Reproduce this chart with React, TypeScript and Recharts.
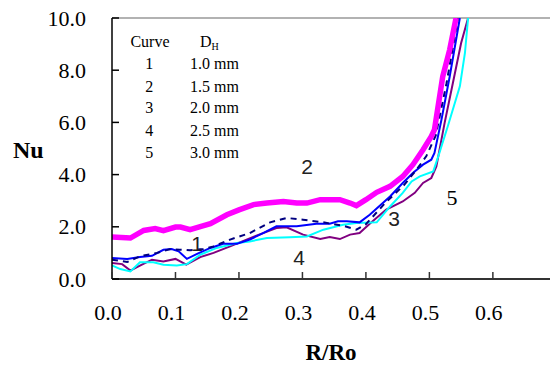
import { LineChart, Line, XAxis, YAxis, ReferenceLine } from "recharts"

// curve 1 - D_H 1.0 mm (dashed navy)
const curve1R = [0, 0.024, 0.044, 0.071, 0.092, 0.107, 0.123, 0.144, 0.16, 0.186, 0.217, 0.249, 0.275, 0.301, 0.333, 0.364, 0.385, 0.4, 0.43, 0.46, 0.48, 0.495, 0.51, 0.527, 0.545]
const curve1Nu = [0.74, 0.65, 0.87, 1.0, 1.15, 1.12, 1.1, 1.15, 1.25, 1.51, 1.76, 2.17, 2.34, 2.27, 2.17, 2.04, 1.89, 2.1, 2.9, 3.6, 4.2, 4.7, 5.5, 7.5, 10]

// curve 2 - D_H 1.5 mm (thick magenta)
const curve2R = [0, 0.029, 0.05, 0.068, 0.081, 0.1, 0.108, 0.123, 0.139, 0.155, 0.181, 0.2, 0.223, 0.244, 0.27, 0.291, 0.307, 0.328, 0.359, 0.375, 0.385, 0.4, 0.417, 0.438, 0.458, 0.474, 0.49, 0.503, 0.508, 0.521, 0.532, 0.542]
const curve2Nu = [1.61, 1.57, 1.86, 1.93, 1.85, 1.99, 1.99, 1.89, 2.01, 2.12, 2.46, 2.65, 2.85, 2.91, 2.97, 2.91, 2.91, 3.04, 3.04, 2.91, 2.81, 3.04, 3.32, 3.55, 3.93, 4.38, 4.95, 5.46, 5.72, 7.76, 8.79, 10]

// curve 3 - D_H 2.0 mm (blue)
const curve3R = [0, 0.024, 0.044, 0.063, 0.081, 0.094, 0.105, 0.118, 0.134, 0.155, 0.175, 0.197, 0.217, 0.238, 0.259, 0.291, 0.322, 0.343, 0.356, 0.37, 0.39, 0.406, 0.438, 0.458, 0.474, 0.49, 0.503, 0.508, 0.519, 0.532, 0.548]
const curve3Nu = [0.8, 0.77, 0.84, 0.89, 1.12, 1.15, 1.06, 0.77, 0.96, 1.19, 1.35, 1.35, 1.51, 1.76, 2.02, 2.02, 2.12, 2.12, 2.21, 2.21, 2.17, 2.46, 3.16, 3.68, 4.06, 4.38, 4.57, 4.83, 6.1, 7.76, 10]

// curve 4 - D_H 2.5 mm (cyan)
const curve4R = [0, 0.013, 0.029, 0.044, 0.065, 0.081, 0.102, 0.118, 0.139, 0.165, 0.197, 0.217, 0.244, 0.28, 0.307, 0.333, 0.364, 0.385, 0.417, 0.438, 0.458, 0.472, 0.485, 0.506, 0.514, 0.529, 0.548, 0.556, 0.561]
const curve4Nu = [0.52, 0.38, 0.29, 0.64, 0.64, 0.55, 0.52, 0.57, 0.93, 1.19, 1.38, 1.44, 1.57, 1.6, 1.63, 1.89, 2.08, 2.15, 2.17, 2.78, 3.3, 3.74, 3.93, 4.12, 4.7, 5.85, 7.38, 8.66, 10]

// curve 5 - D_H 3.0 mm (purple)
const curve5R = [0, 0.016, 0.029, 0.044, 0.063, 0.081, 0.1, 0.117, 0.139, 0.16, 0.186, 0.212, 0.238, 0.259, 0.275, 0.301, 0.328, 0.343, 0.359, 0.375, 0.39, 0.406, 0.432, 0.458, 0.477, 0.49, 0.503, 0.511, 0.524, 0.537, 0.55, 0.561]
const curve5Nu = [0.61, 0.57, 0.32, 0.51, 0.74, 0.67, 0.77, 0.55, 0.84, 1.0, 1.25, 1.51, 1.76, 1.95, 1.98, 1.7, 1.53, 1.61, 1.53, 1.7, 1.76, 2.12, 2.66, 2.97, 3.3, 3.68, 3.87, 4.31, 5.98, 7.51, 9.04, 10]

const xTicks = [0, 0.1, 0.2, 0.3, 0.4, 0.5, 0.6]
const yTicks = [0, 2, 4, 6, 8, 10]

const legendCurves = ["1", "2", "3", "4", "5"]
const legendSizes = ["1.0 mm", "1.5 mm", "2.0 mm", "2.5 mm", "3.0 mm"]

const zip = (r: number[], nu: number[]) => r.map((x, i) => ({ r: x, nu: nu[i] }))

const PLOT_LEFT = 112
const PLOT_BOTTOM = 279
const serif = "'Liberation Serif', 'Times New Roman', serif"
const sans = "'Liberation Sans', Arial, sans-serif"

function YTick({ y, payload }: any) {
  return (
    <g>
      <line x1={PLOT_LEFT} x2={PLOT_LEFT + 7} y1={y} y2={y} stroke="#000" strokeWidth={1.5} />
      <text x={86} y={y} textAnchor="end" dominantBaseline="central" fontFamily={serif} fontSize={22} fill="#000">
        {Number(payload.value).toFixed(1)}
      </text>
    </g>
  )
}

function XTick({ x, payload }: any) {
  return (
    <g>
      <line x1={x} x2={x} y1={PLOT_BOTTOM} y2={PLOT_BOTTOM - 7} stroke="#333" strokeWidth={1.5} />
      <text x={x - 4} y={312} textAnchor="middle" dominantBaseline="central" fontFamily={serif} fontSize={22} fill="#000">
        {Number(payload.value).toFixed(1)}
      </text>
    </g>
  )
}

export default function App() {
  const rowY = [63.3, 86, 107.7, 130, 152]
  return (
    <div style={{ position: "absolute", left: 0, top: 0, width: 550, height: 365, background: "#fff" }}>
      <LineChart width={550} height={365} margin={{ top: 18, right: 0, left: 0, bottom: 0 }}>
        <XAxis
          type="number"
          dataKey="r"
          domain={[0, 0.69]}
          ticks={xTicks}
          height={86}
          tick={<XTick />}
          tickLine={false}
          axisLine={{ stroke: "#333", strokeWidth: 2 }}
          allowDataOverflow
        />
        <YAxis
          type="number"
          dataKey="nu"
          domain={[0, 10]}
          ticks={yTicks}
          width={112}
          tick={<YTick />}
          tickLine={false}
          axisLine={{ stroke: "#000", strokeWidth: 1.5 }}
          allowDataOverflow
        />
        <ReferenceLine y={10} stroke="#999" strokeWidth={1.5} />
        <Line data={zip(curve5R, curve5Nu)} dataKey="nu" type="linear" stroke="#800080" strokeWidth={2} dot={false} isAnimationActive={false} />
        <Line data={zip(curve4R, curve4Nu)} dataKey="nu" type="linear" stroke="#00FFFF" strokeWidth={2} dot={false} isAnimationActive={false} />
        <Line data={zip(curve3R, curve3Nu)} dataKey="nu" type="linear" stroke="#0000FF" strokeWidth={2} dot={false} isAnimationActive={false} />
        <Line data={zip(curve1R, curve1Nu)} dataKey="nu" type="linear" stroke="#000080" strokeWidth={2} strokeDasharray="6 5" dot={false} isAnimationActive={false} />
        <Line data={zip(curve2R, curve2Nu)} dataKey="nu" type="linear" stroke="#FF00FF" strokeWidth={5.5} dot={false} isAnimationActive={false} />
      </LineChart>
      <svg width={550} height={365} style={{ position: "absolute", left: 0, top: 0, pointerEvents: "none" }}>
        <text x={13} y={150} dominantBaseline="central" fontFamily={serif} fontWeight="bold" fontSize={24} fill="#000">Nu</text>
        <text x={331} y={360} textAnchor="middle" fontFamily={serif} fontWeight="bold" fontSize={23} fill="#000">R/Ro</text>
        <g fontFamily={serif} fontSize={16} fill="#000">
          <text x={150} y={41.7} textAnchor="middle" dominantBaseline="central">Curve</text>
          <text x={200} y={41.7} dominantBaseline="central">
            D<tspan fontSize={10} dy={4}>H</tspan>
          </text>
          {legendCurves.map((c, i) => (
            <text key={c} x={149.3} y={rowY[i]} textAnchor="middle" dominantBaseline="central">{c}</text>
          ))}
          {legendSizes.map((s, i) => (
            <text key={s} x={190} y={rowY[i]} dominantBaseline="central">{s}</text>
          ))}
        </g>
        <g fontFamily={sans} fontSize={21} fill="#222" textAnchor="middle" dominantBaseline="central">
          <text x={197} y={243}>1</text>
          <text x={307} y={166}>2</text>
          <text x={394} y={218}>3</text>
          <text x={299} y={257}>4</text>
        </g>
        <text x={452} y={197} textAnchor="middle" dominantBaseline="central" fontFamily={serif} fontSize={22} fill="#000">5</text>
      </svg>
    </div>
  )
}
